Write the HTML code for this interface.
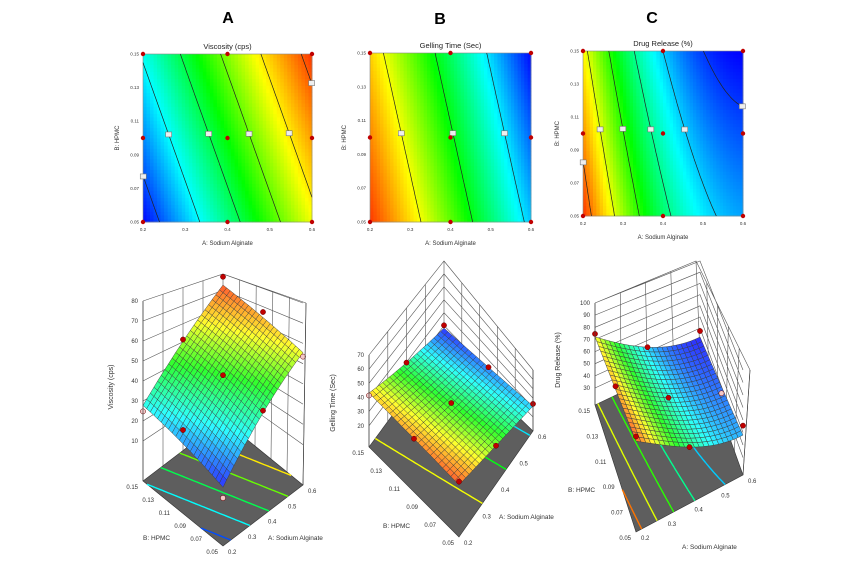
<!DOCTYPE html>
<html><head><meta charset="utf-8">
<style>
html,body{margin:0;padding:0;background:#fff;}
svg{display:block;font-family:"Liberation Sans",sans-serif;}
</style></head>
<body>
<svg id="fig" width="862" height="563" viewBox="0 0 862 563" xmlns="http://www.w3.org/2000/svg">
<rect width="862" height="563" fill="#fff"/>
<text x="228" y="23" font-size="16" font-weight="bold" text-anchor="middle">A</text>
<text x="440" y="24" font-size="16" font-weight="bold" text-anchor="middle">B</text>
<text x="652" y="23" font-size="16" font-weight="bold" text-anchor="middle">C</text>
</svg>
<script>
// ---- data ----
const factorA = [0.2, 0.3, 0.4, 0.5, 0.6];
const factorB = [0.05, 0.07, 0.09, 0.11, 0.13, 0.15];
const designA = [-1, 0, 1];
const designB = [-1, 0, 1];
// model coefficients [intercept, A, B, A^2, AB] in coded units
const viscosityCoef = [42, 22, 7.8, 0, 0];
const gellingCoef = [38, -12, -2.8, 0, 0];
const releaseCoef = [40, -20, -5, 9, 1];
const viscosityLevels = [16.5, 27, 37.5, 48, 58.5, 69];
const gellingLevels = [45.2, 37.5, 29.8];
const releaseLevels = [71, 61, 52, 43, 35, 27.7];
// residuals of design runs (order: a=-1..1 outer, b=-1..1 inner)
const viscosityResid = [-4, 6, -3, 1, 0, 1, -2, 3, 5];
const gellingResid = [3, 0, -2, 0, 1, 0, 2, 0, 3];
const releaseResid = [3, 2, 2, 0, 0, 0, 4, -3, 3];
const viscosityTicksZ = [10, 20, 30, 40, 50, 60, 70, 80];
const gellingTicksZ = [20, 30, 40, 50, 60, 70];
const releaseTicksZ = [30, 40, 50, 60, 70, 80, 90, 100];

const NS = "http://www.w3.org/2000/svg";
const svg = document.getElementById("fig");
function mk(tag, attrs, parent) {
  const el = document.createElementNS(NS, tag);
  for (const k in attrs) el.setAttribute(k, attrs[k]);
  (parent || svg).appendChild(el);
  return el;
}
function model(c, a, b) { return c[0] + c[1]*a + c[2]*b + c[3]*a*a + c[4]*a*b; }
function cmap(t, pastel) {
  t = Math.max(0, Math.min(1, t));
  const st = [[0,0,255],[0,255,255],[0,255,0],[255,255,0],[255,50,0]];
  const p = t*4, i = Math.min(3, Math.floor(p)), f = p - i;
  let c = [0,1,2].map(k => st[i][k] + (st[i+1][k]-st[i][k])*f);
  if (pastel) c = c.map(v => v*0.82 + 255*0.18);
  return "rgb(" + c.map(v => Math.round(v)).join(",") + ")";
}
function coded(v, lo, hi) { return (v - lo) / (hi - lo) * 2 - 1; }

function contours(coef, levels, N) {
  const vals = [];
  for (let i = 0; i <= N; i++) { vals.push([]); for (let j = 0; j <= N; j++) vals[i].push(model(coef, -1 + 2*i/N, -1 + 2*j/N)); }
  const out = levels.map(() => []);
  levels.forEach((L, li) => {
    for (let i = 0; i < N; i++) for (let j = 0; j < N; j++) {
      const corners = [[i,j],[i+1,j],[i+1,j+1],[i,j+1]];
      const pts = [];
      for (let e = 0; e < 4; e++) {
        const p = corners[e], q = corners[(e+1)%4];
        const v1 = vals[p[0]][p[1]] - L, v2 = vals[q[0]][q[1]] - L;
        if ((v1 < 0) !== (v2 < 0)) {
          const t = v1 / (v1 - v2);
          const ii = p[0] + (q[0]-p[0])*t, jj = p[1] + (q[1]-p[1])*t;
          pts.push([-1 + 2*ii/N, -1 + 2*jj/N]);
        }
      }
      if (pts.length >= 2) out[li].push([pts[0], pts[1]]);
      if (pts.length === 4) out[li].push([pts[2], pts[3]]);
    }
  });
  return out;
}

function contourPlot(cfg) {
  const g = mk("g", {});
  
  
  const {x0,y0,x1,y1} = cfg;
  const X = a => x0 + (a+1)/2*(x1-x0), Y = b => y1 - (b+1)/2*(y1-y0);
  const vmin = cfg.vmin, vmax = cfg.vmax;
  const n = 48, cw = (x1-x0)/n, ch = (y1-y0)/n;
  for (let i = 0; i < n; i++) for (let j = 0; j < n; j++) {
    const a = -1 + 2*(i+0.5)/n, b = -1 + 2*(j+0.5)/n;
    const r = mk("rect", {x: (x0 + i*cw).toFixed(2), y: (y1 - (j+1)*ch).toFixed(2), width: (cw+0.4).toFixed(2), height: (ch+0.4).toFixed(2), fill: cmap((model(cfg.coef,a,b)-vmin)/(vmax-vmin))}, g);
    
    
  }
  const frame = mk("rect", {x:x0, y:y0, width:x1-x0, height:y1-y0, fill:"none", stroke:"#888", "stroke-width":0.6}, g);
  
  
  const segs = contours(cfg.coef, cfg.levels, 60);
  segs.forEach((list, li) => {
    let d = "", best = null, bd = 1e9;
    list.forEach(s => {
      d += "M" + X(s[0][0]).toFixed(1) + "," + Y(s[0][1]).toFixed(1) + "L" + X(s[1][0]).toFixed(1) + "," + Y(s[1][1]).toFixed(1);
      const mb = (s[0][1]+s[1][1])/2, dist = Math.abs(mb - 0.05);
      if (dist < bd) { bd = dist; best = s; }
    });
    const p = mk("path", {d: d, stroke: "#222", "stroke-width": 0.7, fill: "none"}, g);
    
    
    if (best) {
      const bx = X((best[0][0]+best[1][0])/2), by = Y((best[0][1]+best[1][1])/2);
      const lb = mk("rect", {x: bx-3, y: by-2.5, width: 6, height: 5, fill: "#eee", stroke: "#777", "stroke-width": 0.6}, g);
      
      
    }
  });
  designA.forEach(a => designB.forEach(b => {
    const c = mk("circle", {cx: X(a), cy: Y(b), r: 2.2, fill: "#c00000"}, g);
    
    
  }));
  factorB.forEach(v => {
    const b = coded(v, 0.05, 0.15);
    const t = mk("text", {x: x0-4, y: Y(b)+1.5, "font-size": 4.5, "text-anchor": "end", fill: "#333"}, g);
    t.textContent = v.toFixed(2);
    
    
  });
  factorA.forEach(v => {
    const a = coded(v, 0.2, 0.6);
    const t = mk("text", {x: X(a), y: y1+9, "font-size": 4.5, "text-anchor": "middle", fill: "#333"}, g);
    t.textContent = String(v);
    
    
  });
  const tt = mk("text", {x: (x0+x1)/2, y: y0-5, "font-size": 7.5, "text-anchor": "middle", fill: "#222"}, g);
  tt.textContent = cfg.title;
  
  
  const xt = mk("text", {x: (x0+x1)/2, y: y1+23, "font-size": 6, "text-anchor": "middle", fill: "#333"}, g);
  xt.textContent = "A: Sodium Alginate";
  
  
  const yx = x0-24, yy = (y0+y1)/2;
  const yt = mk("text", {x: yx, y: yy, "font-size": 6, "text-anchor": "middle", fill: "#333", transform: "rotate(-90 " + yx + " " + yy + ")"}, g);
  yt.textContent = "B: HPMC";
  
  
}

function surfacePlot(cfg) {
  const g = mk("g", {});
  
  
  const F = cfg.F, L = cfg.L, R = cfg.R, K = cfg.K;
  const bil = (u, w, f, r, l, k) => f*(1-u)*(1-w) + r*u*(1-w) + l*(1-u)*w + k*u*w;
  const floorPt = (a, b) => { const u=(a+1)/2, w=(b+1)/2; return [bil(u,w,F[0],R[0],L[0],K[0]), bil(u,w,F[1],R[1],L[1],K[1])]; };
  const sc = (a, b) => { const u=(a+1)/2, w=(b+1)/2; const s=cfg.s; return bil(u,w,s[0],s[1],s[2],s[3]); };
  const P = (a, b, v) => { const f = floorPt(a,b); return [f[0], f[1] - (v - cfg.zmin)*sc(a,b)]; };
  const edgeY = (base, top, z) => base[1] - (z - cfg.zmin)/(cfg.zmax - cfg.zmin)*(base[1]-top[1]);
  const lerp = (p, q, t) => [p[0]+(q[0]-p[0])*t, p[1]+(q[1]-p[1])*t];
  // walls grid
  let gd = "";
  cfg.zticks.forEach(z => {
    const l = [L[0], edgeY(L, cfg.Lt, z)], k = [K[0], edgeY(K, cfg.Kt, z)], r = [R[0], edgeY(R, cfg.Rt, z)];
    gd += "M" + l[0] + "," + l[1].toFixed(1) + "L" + k[0] + "," + k[1].toFixed(1) + "L" + r[0] + "," + r[1].toFixed(1);
  });
  factorA.forEach(v => {
    const t = (coded(v,0.2,0.6)+1)/2;
    const b0 = lerp(L, K, t), t0 = lerp(cfg.Lt, cfg.Kt, t);
    gd += "M" + b0[0].toFixed(1) + "," + b0[1].toFixed(1) + "L" + t0[0].toFixed(1) + "," + t0[1].toFixed(1);
  });
  factorB.forEach(v => {
    const t = (coded(v,0.05,0.15)+1)/2;
    const b0 = lerp(R, K, t), t0 = lerp(cfg.Rt, cfg.Kt, t);
    gd += "M" + b0[0].toFixed(1) + "," + b0[1].toFixed(1) + "L" + t0[0].toFixed(1) + "," + t0[1].toFixed(1);
  });
  gd += "M" + cfg.Lt.join(",") + "L" + cfg.Kt.join(",") + "L" + cfg.Rt.join(",");
  const grid = mk("path", {d: gd, stroke: "#555", "stroke-width": 0.6, fill: "none"}, g);
  
  
  // floor
  const fl = mk("polygon", {points: [F,R,K,L].map(p => p.join(",")).join(" "), fill: "#5e5e5e", stroke: "#333", "stroke-width": 0.6}, g);
  
  
  const segs = contours(cfg.coef, cfg.levels, 40);
  segs.forEach((list, li) => {
    let d = "";
    list.forEach(s => { const p = floorPt(s[0][0], s[0][1]), q = floorPt(s[1][0], s[1][1]); d += "M" + p[0].toFixed(1) + "," + p[1].toFixed(1) + "L" + q[0].toFixed(1) + "," + q[1].toFixed(1); });
    const p = mk("path", {d: d, stroke: cmap((cfg.levels[li]-cfg.vmin)/(cfg.vmax-cfg.vmin)), "stroke-width": 1.4, fill: "none"}, g);
    
    
  });
  // surface
  const n = 22, quads = [];
  for (let i = 0; i < n; i++) for (let j = 0; j < n; j++) {
    const a0 = -1 + 2*i/n, a1 = -1 + 2*(i+1)/n, b0 = -1 + 2*j/n, b1 = -1 + 2*(j+1)/n;
    quads.push({depth: a0 + a1 + b0 + b1, a0, a1, b0, b1});
  }
  quads.sort((p, q) => q.depth - p.depth);
  quads.forEach(q => {
    const pts = [[q.a0,q.b0],[q.a1,q.b0],[q.a1,q.b1],[q.a0,q.b1]].map(c => P(c[0], c[1], model(cfg.coef, c[0], c[1])));
    const v = model(cfg.coef, (q.a0+q.a1)/2, (q.b0+q.b1)/2);
    const pg = mk("polygon", {points: pts.map(p => p[0].toFixed(1) + "," + p[1].toFixed(1)).join(" "), fill: cmap((v-cfg.vmin)/(cfg.vmax-cfg.vmin), true), stroke: "#3a3a3a", "stroke-width": 0.45}, g);
    
    
  });
  // design points
  let idx = 0;
  designA.forEach(a => designB.forEach(b => {
    const res = cfg.resid[idx++];
    const p = P(a, b, model(cfg.coef, a, b) + res);
    const c = mk("circle", {cx: p[0].toFixed(1), cy: p[1].toFixed(1), r: 2.6, fill: res >= 0 ? "#c00000" : "#f4c8c8", stroke: "#600", "stroke-width": 0.5}, g);
    
    
  }));
  // box edges
  const ed = mk("path", {d: "M" + L.join(",") + "L" + cfg.Lt.join(",") + "M" + R.join(",") + "L" + cfg.Rt.join(","), stroke: "#444", "stroke-width": 0.7, fill: "none"}, g);
  
  
  // ticks
  cfg.zticks.forEach(z => {
    const y = edgeY(L, cfg.Lt, z);
    const t = mk("text", {x: L[0]-5, y: y+2, "font-size": 6, "text-anchor": "end", fill: "#333"}, g);
    t.textContent = String(z);
    
    
  });
  factorA.forEach(v => {
    const p = lerp(F, R, (coded(v,0.2,0.6)+1)/2);
    const t = mk("text", {x: p[0]+5, y: p[1]+8, "font-size": 6, fill: "#333"}, g);
    t.textContent = String(v);
    
    
  });
  factorB.forEach(v => {
    const p = lerp(F, L, (coded(v,0.05,0.15)+1)/2);
    const t = mk("text", {x: p[0]-5, y: p[1]+8, "font-size": 6, "text-anchor": "end", fill: "#333"}, g);
    t.textContent = v.toFixed(2);
    
    
  });
  const at = mk("text", {x: cfg.aTitle[0], y: cfg.aTitle[1], "font-size": 6.5, fill: "#333"}, g);
  at.textContent = "A: Sodium Alginate";
  
  
  const bt = mk("text", {x: cfg.bTitle[0], y: cfg.bTitle[1], "font-size": 6.5, fill: "#333"}, g);
  bt.textContent = "B: HPMC";
  
  
  const zx = cfg.zTitle[0], zy = cfg.zTitle[1];
  const zt = mk("text", {x: zx, y: zy, "font-size": 7, "text-anchor": "middle", fill: "#333", transform: "rotate(-90 " + zx + " " + zy + ")"}, g);
  zt.textContent = cfg.zLabel;
  
  
}

contourPlot({name: "viscosity-contour", x0: 143, y0: 54, x1: 312, y1: 222, coef: viscosityCoef, levels: viscosityLevels, vmin: 12, vmax: 72, title: "Viscosity (cps)"});
contourPlot({name: "gelling-contour", x0: 370, y0: 53, x1: 531, y1: 222, coef: gellingCoef, levels: gellingLevels, vmin: 23, vmax: 53, title: "Gelling Time (Sec)"});
contourPlot({name: "release-contour", x0: 583, y0: 51, x1: 743, y1: 216, coef: releaseCoef, levels: releaseLevels, vmin: 25, vmax: 75, title: "Drug Release (%)"});

surfacePlot({name: "viscosity-surface", coef: viscosityCoef, levels: viscosityLevels, resid: viscosityResid, vmin: 12, vmax: 72, zticks: viscosityTicksZ,
  F: [223,546], L: [143,481], R: [303,485], K: [223,420], Lt: [143,301], Kt: [223,274], Rt: [306,303], zmin: -10, zmax: 80, s: [2.64, 2.0, 2.0, 1.65],
  aTitle: [268,540], bTitle: [143,540], zTitle: [113,387], zLabel: "Viscosity (cps)"});
surfacePlot({name: "gelling-surface", coef: gellingCoef, levels: gellingLevels, resid: gellingResid, vmin: 23, vmax: 53, zticks: gellingTicksZ,
  F: [459,537], L: [369,447], R: [533,431], K: [444,345], Lt: [369,355], Kt: [444,261], Rt: [533,370], zmin: 5, zmax: 70, s: [1.09, 1.05, 1.28, 0.93],
  aTitle: [499,519], bTitle: [383,528], zTitle: [335,403], zLabel: "Gelling Time (Sec)"});
surfacePlot({name: "release-surface", coef: releaseCoef, levels: releaseLevels, resid: releaseResid, vmin: 25, vmax: 75, zticks: releaseTicksZ,
  F: [636,532], L: [595,405], R: [743,475], K: [700,355], Lt: [595,303], Kt: [696,261], Rt: [750,370], zmin: 16, zmax: 100, s: [1.54, 2.35, 1.45, 2.0],
  aTitle: [682,549], bTitle: [568,492], zTitle: [560,360], zLabel: "Drug Release (%)"});
</script>
</body></html>
